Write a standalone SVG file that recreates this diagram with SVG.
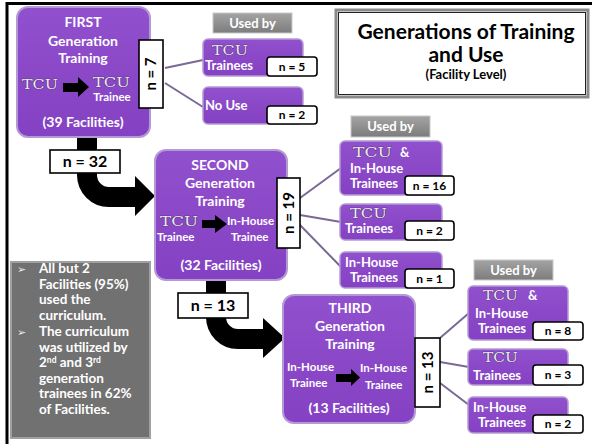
<svg xmlns="http://www.w3.org/2000/svg" width="592" height="444" viewBox="0 0 592 444">
  <defs>
    <linearGradient id="purpleFill" x1="0" y1="0" x2="0" y2="1">
      <stop offset="0" stop-color="#9150CD"/>
      <stop offset="1" stop-color="#8441C3"/>
    </linearGradient>
    <linearGradient id="grayFill" x1="0" y1="0" x2="0" y2="1">
      <stop offset="0" stop-color="#a4a4a4"/>
      <stop offset="1" stop-color="#7c7c7c"/>
    </linearGradient>
  </defs>
  <style>
    text { font-family: Lato, "Liberation Sans", sans-serif; font-weight: bold; }
    .gen { fill: url(#purpleFill); stroke: #B49AD4; stroke-width: 2; }
    .use { fill: url(#purpleFill); stroke: #B49AD4; stroke-width: 1.5; }
    .usedby { fill: url(#grayFill); stroke: #c8c8c8; stroke-width: 1; }
    .count { fill: #ffffff; stroke: #000000; stroke-width: 1.6; }
    .w { fill: #ffffff; }
    .k { fill: #000000; }
    .big { font-size: 14px; text-anchor: middle; }
    .mid { font-size: 13px; }
    .sm { font-size: 11.5px; }
    .cnt { font-size: 12px; text-anchor: middle; }
    .tcu { font-family: "DejaVu Serif", "Liberation Serif", serif; font-weight: normal; font-size: 12px; fill: #EEE9F4; stroke: #3e3052; stroke-width: 0.7; paint-order: stroke; }
    .link { stroke: #7B6896; stroke-width: 2; fill: none; }
    .flow { stroke: #000000; stroke-width: 20; fill: none; }
    .notes text { font-size: 13.5px; fill: #ffffff; }
    .notes .bullet { font-family: "DejaVu Sans", sans-serif; font-weight: normal; font-size: 11px; fill: #e8e8e8; }
  </style>

  <!-- page frame -->
  <rect x="0" y="0" width="592" height="444" fill="#ffffff"/>
  <path d="M7,444 V3.5 H592" fill="none" stroke="#000" stroke-width="3"/>

  <!-- connectors -->
  <g id="connectors">
    <path class="link" d="M165,68 L203,60"/>
    <path class="link" d="M165,83 L203,107"/>
    <path class="link" d="M300,198 L341,168"/>
    <path class="link" d="M300,215 L341,222"/>
    <path class="link" d="M300,225 L342,268"/>
    <path class="link" d="M440,338 L469,313"/>
    <path class="link" d="M440,362 L469,367"/>
    <path class="link" d="M440,383 L469,405"/>
    <!-- first to second generation -->
    <path class="flow" d="M87,137 V175 A22,22 0 0 0 109,197 H137"/>
    <polygon points="135,176 155,196 135,216" fill="#000"/>
    <!-- second to third generation -->
    <path class="flow" d="M216,280 V317 A22,22 0 0 0 238,339 H265"/>
    <polygon points="263,318 285,338 263,358" fill="#000"/>
  </g>

  <!-- title -->
  <g id="title">
    <rect x="336" y="10" width="252" height="87" fill="#fff" stroke="#8a8a8a" stroke-width="3"/>
    <rect x="338.5" y="12.5" width="247" height="82" fill="none" stroke="#222" stroke-width="1"/>
    <text x="466" y="39" class="k" font-size="21" text-anchor="middle">Generations of Training</text>
    <text x="466" y="62" class="k" font-size="21" text-anchor="middle">and Use</text>
    <text x="466" y="79" class="k" font-size="13" text-anchor="middle">(Facility Level)</text>
  </g>

  <!-- first generation -->
  <g id="gen1">
    <rect class="gen" x="17" y="7" width="133" height="130" rx="11"/>
    <text x="83" y="27" class="w big">FIRST</text>
    <text x="83" y="46" class="w big">Generation</text>
    <text x="83" y="63" class="w big">Training</text>
    <text x="22" y="89" class="tcu" textLength="36" lengthAdjust="spacingAndGlyphs">TCU</text>
    <polygon points="63,83 78,83 78,77 89,87 78,97 78,92 63,92" fill="#000"/>
    <text x="93" y="87" class="tcu" textLength="37" lengthAdjust="spacingAndGlyphs">TCU</text>
    <text x="112" y="101" class="w sm" text-anchor="middle">Trainee</text>
    <text x="83" y="127" class="w big">(39 Facilities)</text>
  </g>
  <g id="n7">
    <rect class="count" x="139" y="40" width="24" height="68"/>
    <text x="151" y="79" class="k" font-size="15" text-anchor="middle" transform="rotate(-90 151 74)">n = 7</text>
  </g>
  <g id="usedby1">
    <rect class="usedby" x="213" y="13" width="79" height="20"/>
    <text x="252.5" y="28" class="w mid" text-anchor="middle">Used by</text>
  </g>
  <g id="use1-tcu">
    <rect class="use" x="203" y="39" width="100" height="37" rx="5"/>
    <text x="212" y="55" class="tcu" textLength="36" lengthAdjust="spacingAndGlyphs">TCU</text>
    <text x="205" y="70" class="w mid">Trainees</text>
    <rect class="count" x="267" y="57" width="50" height="19" rx="3"/>
    <text x="292" y="70.5" class="k cnt">n = 5</text>
  </g>
  <g id="use1-none">
    <rect class="use" x="203" y="87" width="100" height="37" rx="5"/>
    <text x="205" y="110" class="w mid">No Use</text>
    <rect class="count" x="267" y="106" width="50" height="18" rx="3"/>
    <text x="292" y="119" class="k cnt">n = 2</text>
  </g>
  <g id="n32">
    <rect class="count" x="50" y="150" width="70" height="23"/>
    <text x="85" y="167" class="k" font-size="16" text-anchor="middle">n = 32</text>
  </g>

  <!-- second generation -->
  <g id="gen2">
    <rect class="gen" x="155" y="150" width="132" height="130" rx="11"/>
    <text x="220" y="170" class="w big">SECOND</text>
    <text x="220" y="188" class="w big">Generation</text>
    <text x="220" y="206" class="w big">Training</text>
    <text x="160" y="226" class="tcu" textLength="38" lengthAdjust="spacingAndGlyphs">TCU</text>
    <text x="157" y="241" class="w sm">Trainee</text>
    <polygon points="202,220 215,220 215,215 227,224 215,233 215,228 202,228" fill="#000"/>
    <text x="227" y="225" class="w sm">In-House</text>
    <text x="231" y="241" class="w sm">Trainee</text>
    <text x="221" y="270" class="w big">(32 Facilities)</text>
  </g>
  <g id="n19">
    <rect class="count" x="277" y="178" width="23" height="70"/>
    <text x="288.5" y="218.5" class="k" font-size="15" text-anchor="middle" transform="rotate(-90 288.5 213)">n = 19</text>
  </g>
  <g id="usedby2">
    <rect class="usedby" x="351" y="116" width="79" height="21"/>
    <text x="390.5" y="131" class="w mid" text-anchor="middle">Used by</text>
  </g>
  <g id="use2-both">
    <rect class="use" x="340" y="141" width="102" height="54" rx="5"/>
    <text x="353" y="157" class="tcu" textLength="39" lengthAdjust="spacingAndGlyphs">TCU</text>
    <text x="400" y="157" class="w mid">&amp;</text>
    <text x="350" y="173" class="w mid">In-House</text>
    <text x="350" y="188" class="w mid">Trainees</text>
    <rect class="count" x="405" y="176" width="49" height="19" rx="3"/>
    <text x="429.5" y="189.5" class="k cnt">n = 16</text>
  </g>
  <g id="use2-tcu">
    <rect class="use" x="340" y="204" width="102" height="36" rx="5"/>
    <text x="350" y="218" class="tcu" textLength="37" lengthAdjust="spacingAndGlyphs">TCU</text>
    <text x="345" y="233" class="w mid">Trainees</text>
    <rect class="count" x="405" y="221" width="49" height="19" rx="3"/>
    <text x="429.5" y="234.5" class="k cnt">n = 2</text>
  </g>
  <g id="use2-inhouse">
    <rect class="use" x="340" y="252" width="102" height="36" rx="5"/>
    <text x="345" y="267" class="w mid">In-House</text>
    <text x="350" y="282" class="w mid">Trainees</text>
    <rect class="count" x="405" y="269" width="49" height="19" rx="3"/>
    <text x="429.5" y="282.5" class="k cnt">n = 1</text>
  </g>
  <g id="n13-label">
    <rect class="count" x="178" y="293" width="70" height="25"/>
    <text x="213" y="311" class="k" font-size="16" text-anchor="middle">n = 13</text>
  </g>

  <!-- third generation -->
  <g id="gen3">
    <rect class="gen" x="283" y="295" width="132" height="128" rx="11"/>
    <text x="350" y="313" class="w big">THIRD</text>
    <text x="350" y="331" class="w big">Generation</text>
    <text x="350" y="349" class="w big">Training</text>
    <text x="287" y="371" class="w sm">In-House</text>
    <text x="290" y="387" class="w sm">Trainee</text>
    <polygon points="336,374 351,374 351,369 360,377.5 351,386 351,382 336,382" fill="#000"/>
    <text x="360" y="372" class="w sm">In-House</text>
    <text x="365" y="389" class="w sm">Trainee</text>
    <text x="349" y="413" class="w big">(13 Facilities)</text>
  </g>
  <g id="n13">
    <rect class="count" x="415" y="338" width="25" height="69"/>
    <text x="427.5" y="378" class="k" font-size="15" text-anchor="middle" transform="rotate(-90 427.5 372.5)">n = 13</text>
  </g>
  <g id="usedby3">
    <rect class="usedby" x="474" y="260" width="79" height="20"/>
    <text x="513.5" y="275" class="w mid" text-anchor="middle">Used by</text>
  </g>
  <g id="use3-both">
    <rect class="use" x="468" y="286" width="100" height="54" rx="5"/>
    <text x="483" y="300" class="tcu" textLength="35" lengthAdjust="spacingAndGlyphs">TCU</text>
    <text x="528" y="300" class="w mid">&amp;</text>
    <text x="475" y="318" class="w mid">In-House</text>
    <text x="478" y="333" class="w mid">Trainees</text>
    <rect class="count" x="533" y="322" width="50" height="18" rx="3"/>
    <text x="558" y="335" class="k cnt">n = 8</text>
  </g>
  <g id="use3-tcu">
    <rect class="use" x="468" y="349" width="100" height="36" rx="5"/>
    <text x="483" y="362" class="tcu" textLength="35" lengthAdjust="spacingAndGlyphs">TCU</text>
    <text x="473" y="380" class="w mid">Trainees</text>
    <rect class="count" x="533" y="365" width="50" height="20" rx="3"/>
    <text x="558" y="379" class="k cnt">n = 3</text>
  </g>
  <g id="use3-inhouse">
    <rect class="use" x="468" y="397" width="100" height="36" rx="5"/>
    <text x="473" y="412" class="w mid">In-House</text>
    <text x="478" y="427" class="w mid">Trainees</text>
    <rect class="count" x="533" y="415" width="50" height="18" rx="3"/>
    <text x="558" y="428" class="k cnt">n = 2</text>
  </g>

  <!-- summary notes -->
  <g id="summary" class="notes">
    <rect x="11" y="262" width="139" height="176" fill="#717171" stroke="#a0a0a0" stroke-width="2"/>
    <text x="17" y="273" class="bullet">➢</text>
    <text x="39" y="273">All but 2</text>
    <text x="39" y="288.5">Facilities (95%)</text>
    <text x="39" y="304">used the</text>
    <text x="39" y="319.5">curriculum.</text>
    <text x="17" y="336" class="bullet">➢</text>
    <text x="39" y="336">The curriculum</text>
    <text x="39" y="351.5">was utilized  by</text>
    <text x="39" y="367">2<tspan font-size="8.5" dy="-4.5">nd</tspan><tspan dy="4.5"> and 3</tspan><tspan font-size="8.5" dy="-4.5">rd</tspan></text>
    <text x="39" y="382.5">generation</text>
    <text x="39" y="398">trainees in 62%</text>
    <text x="39" y="413.5">of Facilities.</text>
  </g>
</svg>
